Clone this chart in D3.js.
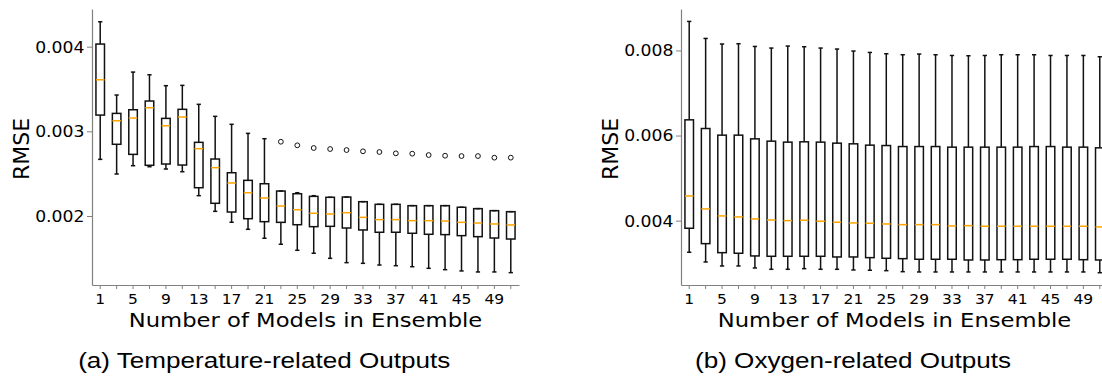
<!DOCTYPE html>
<html>
<head>
<meta charset="utf-8">
<script src="https://cdn.jsdelivr.net/npm/d3@7"></script>
<style>
  html, body { margin: 0; padding: 0; background: #fff; }
  svg { display: block; }
</style>
</head>
<body>
<div id="chart"></div>
<script>
// ensemble sizes (one box per size)
const sizes = [1, 3, 5, 7, 9, 11, 13, 15, 17, 19, 21, 23, 25, 27, 29, 31, 33, 35, 37, 39, 41, 43, 45, 47, 49, 51];
const labelledSizes = [1, 5, 9, 13, 17, 21, 25, 29, 33, 37, 41, 45, 49];

// (a) temperature-related outputs
const tempLow = [0.002669, 0.002496, 0.002594, 0.002582, 0.002555, 0.002523, 0.00224, 0.002055, 0.001926, 0.001843, 0.001737, 0.001666, 0.001595, 0.00156, 0.0015, 0.001449, 0.001441, 0.001421, 0.001413, 0.001401, 0.001382, 0.001366, 0.001351, 0.001339, 0.001339, 0.001331];
const tempQ1 = [0.003192, 0.002847, 0.002728, 0.002599, 0.002614, 0.002602, 0.002334, 0.00215, 0.002047, 0.001968, 0.001933, 0.001925, 0.001897, 0.001874, 0.001878, 0.001858, 0.001835, 0.001808, 0.001808, 0.001796, 0.001784, 0.00178, 0.001768, 0.001756, 0.00174, 0.001728];
const tempMedian = [0.003609, 0.003125, 0.003157, 0.003279, 0.003066, 0.003169, 0.002795, 0.002571, 0.00239, 0.002275, 0.002213, 0.002118, 0.002074, 0.002032, 0.002024, 0.002039, 0.001984, 0.001957, 0.001957, 0.001945, 0.001945, 0.001941, 0.001925, 0.001917, 0.001906, 0.001894];
const tempQ3 = [0.004031, 0.003212, 0.003255, 0.003358, 0.003153, 0.00326, 0.00287, 0.002673, 0.002511, 0.002421, 0.002381, 0.002295, 0.002263, 0.002232, 0.002221, 0.002224, 0.002169, 0.002138, 0.002138, 0.002122, 0.002122, 0.002122, 0.002103, 0.002087, 0.002063, 0.002051];
const tempHigh = [0.004294, 0.003429, 0.0037, 0.003668, 0.003539, 0.003543, 0.003319, 0.003177, 0.003083, 0.002976, 0.002913, 0.002295, 0.002275, 0.00224, 0.002221, 0.002224, 0.002169, 0.002138, 0.002138, 0.002122, 0.002122, 0.002122, 0.002103, 0.002087, 0.002063, 0.002051];
const tempOutlier = [null, null, null, null, null, null, null, null, null, null, null, 0.002877, 0.002835, 0.002803, 0.002791, 0.002779, 0.002764, 0.002756, 0.00274, 0.002736, 0.00272, 0.002712, 0.002708, 0.002708, 0.002689, 0.002689];
const tempTicks = [0.002, 0.003, 0.004];

// (b) oxygen-related outputs
const oxyLow = [0.003256, 0.003028, 0.002934, 0.002934, 0.002887, 0.002856, 0.002856, 0.002871, 0.002856, 0.002856, 0.00284, 0.002833, 0.002824, 0.0028, 0.002793, 0.002793, 0.002793, 0.002793, 0.002793, 0.002793, 0.002793, 0.002793, 0.002793, 0.002793, 0.002793, 0.002776];
const oxyQ1 = [0.003821, 0.003459, 0.003247, 0.003233, 0.00317, 0.003162, 0.003162, 0.003162, 0.003162, 0.003146, 0.003146, 0.00313, 0.003115, 0.003106, 0.003092, 0.003092, 0.003092, 0.003075, 0.003075, 0.003082, 0.003082, 0.003092, 0.003092, 0.003092, 0.003082, 0.003075];
const oxyMedian = [0.004581, 0.004275, 0.004111, 0.004087, 0.00404, 0.004016, 0.004, 0.004009, 0.003986, 0.003962, 0.003946, 0.003938, 0.003922, 0.003906, 0.003906, 0.003906, 0.003875, 0.003882, 0.003868, 0.003868, 0.003868, 0.003868, 0.003868, 0.003868, 0.003868, 0.003852];
const oxyQ3 = [0.006369, 0.006165, 0.006009, 0.006009, 0.005922, 0.005868, 0.005845, 0.005852, 0.005845, 0.005821, 0.005805, 0.005774, 0.005765, 0.005741, 0.005741, 0.005741, 0.005727, 0.005727, 0.005727, 0.005727, 0.005727, 0.005741, 0.005741, 0.005727, 0.005727, 0.005711];
const oxyHigh = [0.008682, 0.008282, 0.008151, 0.008158, 0.008094, 0.008056, 0.008103, 0.008087, 0.008056, 0.008033, 0.007986, 0.007953, 0.007922, 0.007899, 0.007915, 0.007899, 0.007882, 0.007875, 0.007882, 0.007899, 0.007899, 0.007899, 0.007882, 0.007882, 0.007882, 0.007852];
const oxyTicks = [0.004, 0.006, 0.008];

// canvas
const width = 1102;
const height = 381;
const stretch = 1.15; // the figure is a little wider than tall-scaled

d3.select("#chart").selectAll("*").remove();

const svg = d3.select("#chart")
  .append("svg")
  .attr("width", width)
  .attr("height", height);

// text placed with a horizontal squeeze/stretch
function label(x, y, text, size, sx, family, anchor) {
  svg.append("text")
    .attr("transform", `translate(${x},${y}) scale(${sx},1)`)
    .attr("text-anchor", anchor || "middle")
    .style("font-family", family)
    .style("font-size", size + "px")
    .attr("fill", "#000")
    .text(text);
}

function panel(opts) {
  const top = 9, bottom = 285;

  const x = d3.scaleBand()
    .domain(sizes)
    .range([opts.left, opts.left + 427])
    .padding(0);

  const y = d3.scaleLinear()
    .domain(opts.yDomain)
    .range([bottom, top]);

  const g = svg.append("g");
  const bw = x.bandwidth() * 0.52;
  const cap = bw * 0.5;
  const cx = d => x(d) + x.bandwidth() / 2;

  const rows = sizes.map((s, i) => ({
    s,
    low: opts.low[i], q1: opts.q1[i], med: opts.median[i], q3: opts.q3[i], high: opts.high[i],
    out: opts.outlier ? opts.outlier[i] : null
  }));

  const box = g.selectAll("g.box")
    .data(rows)
    .join("g")
    .attr("class", "box");

  // whiskers
  box.append("line")
    .attr("x1", d => cx(d.s)).attr("x2", d => cx(d.s))
    .attr("y1", d => y(d.q3)).attr("y2", d => y(d.high))
    .attr("stroke", "#111").attr("stroke-width", 1.5);
  box.append("line")
    .attr("x1", d => cx(d.s)).attr("x2", d => cx(d.s))
    .attr("y1", d => y(d.q1)).attr("y2", d => y(d.low))
    .attr("stroke", "#111").attr("stroke-width", 1.5);

  // caps
  box.append("line")
    .attr("x1", d => cx(d.s) - cap / 2).attr("x2", d => cx(d.s) + cap / 2)
    .attr("y1", d => y(d.high)).attr("y2", d => y(d.high))
    .attr("stroke", "#111").attr("stroke-width", 1.5);
  box.append("line")
    .attr("x1", d => cx(d.s) - cap / 2).attr("x2", d => cx(d.s) + cap / 2)
    .attr("y1", d => y(d.low)).attr("y2", d => y(d.low))
    .attr("stroke", "#111").attr("stroke-width", 1.5);

  // boxes
  box.append("rect")
    .attr("x", d => cx(d.s) - bw / 2)
    .attr("y", d => y(d.q3))
    .attr("width", bw)
    .attr("height", d => y(d.q1) - y(d.q3))
    .attr("fill", "none")
    .attr("stroke", "#111")
    .attr("stroke-width", 1.5);

  // medians
  box.append("line")
    .attr("x1", d => cx(d.s) - bw / 2).attr("x2", d => cx(d.s) + bw / 2)
    .attr("y1", d => y(d.med)).attr("y2", d => y(d.med))
    .attr("stroke", "#ffa500").attr("stroke-width", 1.5);

  // outliers
  box.filter(d => d.out != null)
    .append("circle")
    .attr("cx", d => cx(d.s))
    .attr("cy", d => y(d.out))
    .attr("r", 2.4)
    .attr("fill", "none")
    .attr("stroke", "#111")
    .attr("stroke-width", 1);

  // axes
  const xAxis = svg.append("g")
    .attr("transform", `translate(0,${bottom})`)
    .call(d3.axisBottom(x)
      .tickSize(4)
      .tickSizeOuter(0)
      .tickFormat(d => labelledSizes.includes(d) ? d : ""));
  xAxis.select(".domain").attr("stroke", "#808080").attr("stroke-width", 1.2);
  xAxis.selectAll(".tick line").attr("stroke", "#808080");
  xAxis.selectAll(".tick text")
    .attr("y", 18.7)
    .attr("dy", 0)
    .attr("transform", `scale(${stretch},1)`)
    .style("font-family", "DejaVu Sans")
    .style("font-size", "13.5px")
    .attr("fill", "#000");

  const yAxis = svg.append("g")
    .attr("transform", `translate(${opts.left},0)`)
    .call(d3.axisLeft(y)
      .tickValues(opts.ticks)
      .tickSize(5)
      .tickSizeOuter(0)
      .tickFormat(d3.format(".3f")));
  yAxis.select(".domain").attr("stroke", "#808080").attr("stroke-width", 1.2);
  yAxis.selectAll(".tick line").attr("stroke", "#808080");
  yAxis.selectAll(".tick text")
    .attr("x", -7.5 / stretch)
    .attr("dy", "0.36em")
    .attr("transform", `scale(${stretch},1)`)
    .style("font-family", "DejaVu Sans")
    .style("font-size", "15px")
    .attr("fill", "#000");

  // axis titles
  svg.append("text")
    .attr("transform", `translate(${opts.left - 62.7},149) rotate(-90)`)
    .attr("text-anchor", "middle")
    .style("font-family", "DejaVu Sans")
    .style("font-size", "22px")
    .text("RMSE");

  label(opts.left + 213.5, 327.3, "Number of Models in Ensemble", 19.5, 1.164, "DejaVu Sans");
  label(opts.captionX, 368.3, opts.caption, 21.8, 1.197, "Liberation Sans");
}

panel({
  left: 92,
  yDomain: [0.001185, 0.004445],
  ticks: tempTicks,
  low: tempLow, q1: tempQ1, median: tempMedian, q3: tempQ3, high: tempHigh,
  outlier: tempOutlier,
  caption: "(a) Temperature-related Outputs",
  captionX: 264.2
});

panel({
  left: 681,
  yDomain: [0.002487, 0.008974],
  ticks: oxyTicks,
  low: oxyLow, q1: oxyQ1, median: oxyMedian, q3: oxyQ3, high: oxyHigh,
  outlier: null,
  caption: "(b) Oxygen-related Outputs",
  captionX: 853
});
</script>
</body>
</html>
